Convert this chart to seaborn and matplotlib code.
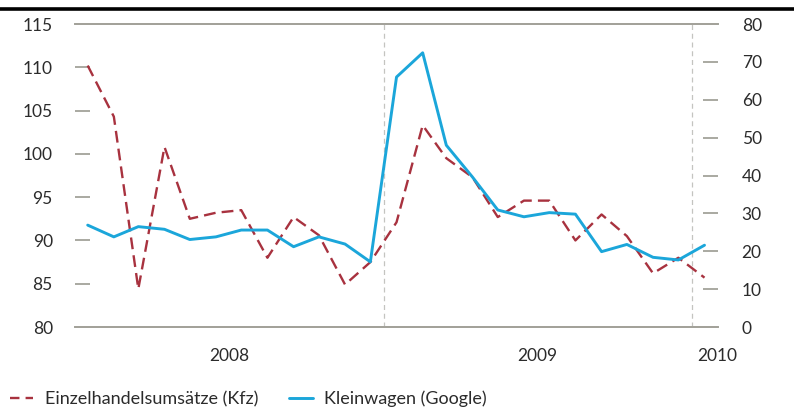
"""Einzelhandelsumsätze (Kfz) vs. Google-Suchanfragen Kleinwagen, 2008-2010."""
import numpy as np
import pandas as pd
import matplotlib
matplotlib.use("Agg")
import matplotlib.pyplot as plt
import matplotlib.dates as mdates
from matplotlib.lines import Line2D
import seaborn as sns

# --- data (monthly, Jan 2008 - Jan 2010) ---
months = pd.date_range("2008-01-01", periods=25, freq="MS") + pd.Timedelta(days=15)
kfz = [110.2, 104.3, 84.4, 100.8, 92.5, 93.2, 93.5, 88.0, 92.7, 90.6, 84.9, 87.5,
       92.1, 103.3, 99.5, 97.3, 92.7, 94.6, 94.6, 90.0, 93.0, 90.5, 86.2, 88.0, 85.7]
google = [26.9, 23.8, 26.5, 25.8, 23.1, 23.8, 25.6, 25.6, 21.2, 23.8, 21.9, 17.2,
          66.0, 72.4, 48.0, 39.6, 30.9, 29.1, 30.2, 29.8, 19.9, 21.8, 18.4, 17.7, 21.6]
left_ticks = [80, 85, 90, 95, 100, 105, 110, 115]
right_ticks = [0, 10, 20, 30, 40, 50, 60, 70, 80]
year_labels = ["2008", "2009", "2010"]
year_label_pos = pd.to_datetime(["2008-07-02", "2009-07-02", "2010-01-31"])
labels = ["Einzelhandelsumsätze (Kfz)", "Kleinwagen (Google)"]

RED = "#a8323f"
BLUE = "#1ba6da"
GREY = "#a3a29a"
TXT = "#2b2b2b"

df = pd.DataFrame({"datum": months, "kfz": kfz, "google": google})

sns.set_style("white")
plt.rcParams["font.family"] = ["Lato", "DejaVu Sans"]

fig = plt.figure(figsize=(7.94, 4.12), dpi=100)
ax = fig.add_axes([0.0945, 0.2063, 0.8098, 0.7354])
ax2 = ax.twinx()

sns.lineplot(data=df, x="datum", y="kfz", ax=ax, color=RED, lw=1.7, linestyle="--")
ax.lines[-1].set_dashes((5, 2.6))
sns.lineplot(data=df, x="datum", y="google", ax=ax2, color=BLUE, lw=2.1)

x0, x1 = pd.Timestamp("2008-01-01"), pd.Timestamp("2010-02-01")
ax.set_xlim(x0, x1)
ax.set_ylim(80, 115)
ax2.set_ylim(0, 80)
ax.set_xlabel("")
ax.set_ylabel("")
ax2.set_ylabel("")

# y axes
ax.set_yticks(left_ticks)
ax.tick_params(axis="y", direction="in", length=11, width=1.3, color=GREY,
               pad=16, labelsize=12.5, labelcolor=TXT)
ax2.set_yticks(right_ticks)
ax2.tick_params(axis="y", direction="in", length=11, width=1.3, color=GREY,
                pad=17, labelsize=12.5, labelcolor=TXT)

# x axis: month ticks, longer ticks at year starts
ax.xaxis.set_major_locator(mdates.YearLocator())
ax.xaxis.set_minor_locator(mdates.MonthLocator())
ax.xaxis.set_major_formatter(plt.NullFormatter())
ax.tick_params(axis="x", which="major", direction="out", length=11, width=1.3, color=GREY)
ax.tick_params(axis="x", which="minor", direction="out", length=7.5, width=1.3, color=GREY)
for pos, lab in zip(year_label_pos, year_labels):
    ax.text(pos, -0.07, lab, transform=ax.get_xaxis_transform(), ha="center",
            va="top", fontsize=12.5, color=TXT)

for a in (ax, ax2):
    for s in ("left", "right"):
        a.spines[s].set_visible(False)
    for s in ("top", "bottom"):
        a.spines[s].set_color(GREY)
        a.spines[s].set_linewidth(1.3)
ax2.tick_params(axis="x", which="both", length=0)

for d in pd.to_datetime(["2009-01-01", "2010-01-01"]):
    ax.axvline(d, color="#c4c4c0", lw=0.9, ls=(0, (4, 3)), zorder=0)

# legend
handles = [Line2D([], [], color=RED, lw=1.7, dashes=(4, 2.6)),
           Line2D([], [], color=BLUE, lw=2.1)]
fig.legend(handles, labels, loc="center left", bbox_to_anchor=(-0.008, 0.032),
           ncol=2, frameon=False, fontsize=13, handlelength=1.3,
           handletextpad=0.65, columnspacing=1.7, labelcolor=TXT)

# thick rule at top
fig.add_artist(Line2D([0, 1], [0.978, 0.978], color="black", lw=2.6,
                      transform=fig.transFigure))

fig.savefig("out.png", dpi=100)
